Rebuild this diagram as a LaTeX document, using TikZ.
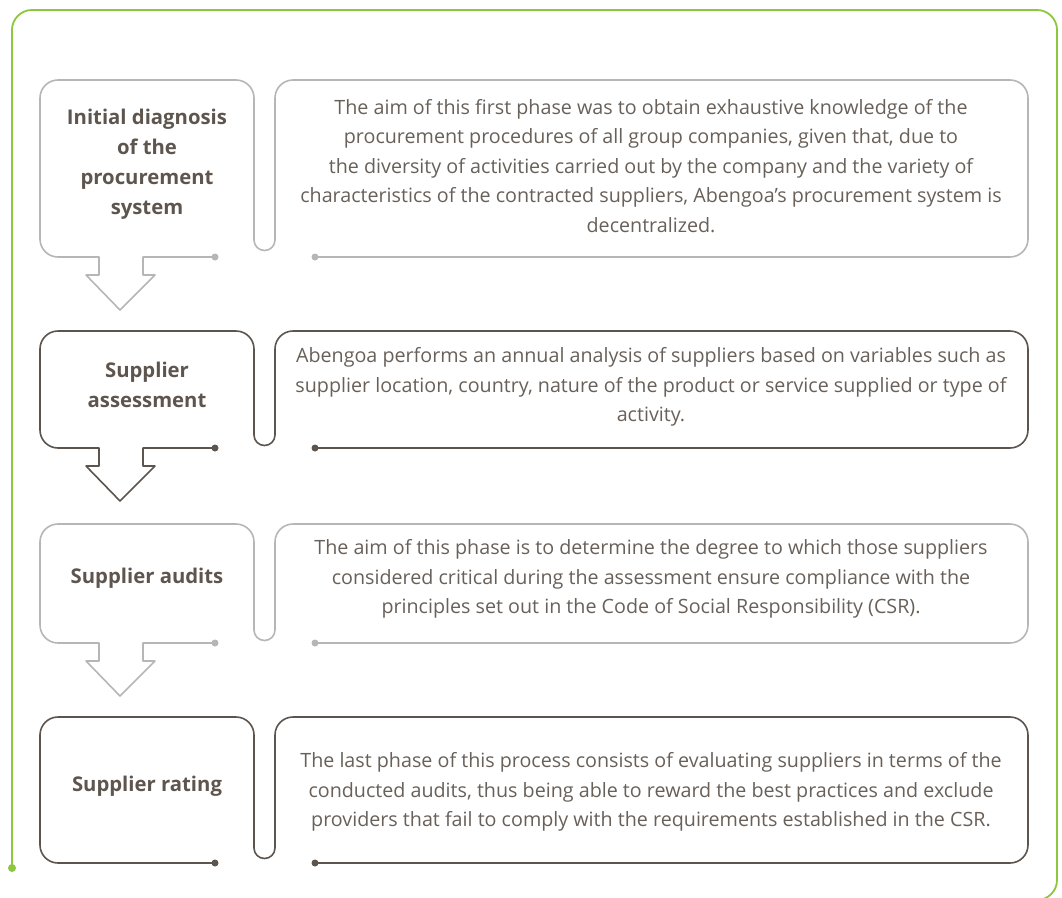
\documentclass[tikz,border=0pt]{standalone}
\usepackage{fontspec}
\setmainfont{Open Sans}

\definecolor{framegreen}{RGB}{141,198,63}
\definecolor{linegray}{RGB}{182,182,182}
\definecolor{linedark}{RGB}{92,84,77}
\definecolor{titlebrown}{RGB}{93,85,78}
\definecolor{descbrown}{RGB}{104,96,89}

\tikzset{
  phaselight/.style={draw=linegray, line width=1.6pt, line join=round},
  phasedark/.style={draw=linedark, line width=1.6pt, line join=round},
  phasetitle/.style={font=\bfseries\fontsize{20.3}{30}\selectfont, text=titlebrown, align=center, inner sep=0pt},
  phasedesc/.style={font=\fontsize{19.7}{29.5}\selectfont, text=descbrown, align=center, inner sep=0pt},
}

\begin{document}
\begin{tikzpicture}[x=1pt, y=-1pt]
  \useasboundingbox (0,0) rectangle (1062,897);

  % Green frame
  \draw[framegreen, line width=1.8pt] (12,868) -- (12,30) arc (180:270:20) -- (1037,10) arc (270:360:20) -- (1057,880) arc (0:90:20);
  \fill[framegreen] (12,868) circle (4);

  % Phase 1 (gray)
  \draw[phaselight] (215,257) -- (143,257) -- (143,275) -- (155,275) -- (120,310) -- (86,275) -- (99,275) -- (99,257)
    -- (58,257) arc (90:180:18) -- (40,98) arc (180:270:18) -- (236,80) arc (270:360:18) -- (254,240) arc (180:0:10.5)
    -- (275,98) arc (180:270:18) -- (1010,80) arc (270:360:18) -- (1028,239) arc (0:90:18) -- (315,257);
  \fill[linegray] (215,257) circle (3.5) (315,257) circle (3.5);

  % Phase 2 (dark)
  \draw[phasedark] (215,448) -- (143,448) -- (143,466) -- (155,466) -- (120,501) -- (86,466) -- (99,466) -- (99,448)
    -- (58,448) arc (90:180:18) -- (40,349) arc (180:270:18) -- (236,331) arc (270:360:18) -- (254,435) arc (180:0:10.5)
    -- (275,349) arc (180:270:18) -- (1010,331) arc (270:360:18) -- (1028,430) arc (0:90:18) -- (315,448);
  \fill[linedark] (215,448) circle (3.5) (315,448) circle (3.5);

  % Phase 3 (gray)
  \draw[phaselight] (215,643) -- (143,643) -- (143,661) -- (155,661) -- (120,696) -- (86,661) -- (99,661) -- (99,643)
    -- (58,643) arc (90:180:18) -- (40,542) arc (180:270:18) -- (236,524) arc (270:360:18) -- (254,630) arc (180:0:10.5)
    -- (275,542) arc (180:270:18) -- (1010,524) arc (270:360:18) -- (1028,625) arc (0:90:18) -- (315,643);
  \fill[linegray] (215,643) circle (3.5) (315,643) circle (3.5);

  % Phase 4 (dark, no arrow)
  \draw[phasedark] (215,863) -- (58,863) arc (90:180:18) -- (40,735) arc (180:270:18) -- (236,717) arc (270:360:18)
    -- (254,848) arc (180:0:10.5) -- (275,735) arc (180:270:18) -- (1010,717) arc (270:360:18) -- (1028,845) arc (0:90:18) -- (315,863);
  \fill[linedark] (215,863) circle (3.5) (315,863) circle (3.5);

  % Titles
  \node[phasetitle] (diagnosis) at (147,164) {Initial diagnosis\\of the\\procurement\\system};
  \node[phasetitle] (assessment) at (147,385) {Supplier\\assessment};
  \node[phasetitle] (audits) at (147,578) {Supplier audits};
  \node[phasetitle] (rating) at (147,786) {Supplier rating};

  % Descriptions
  \node[phasedesc] (diagnosistext) at (651,166) {The aim of this first phase was to obtain exhaustive knowledge of the\\
    procurement procedures of all group companies, given that, due to\\
    the diversity of activities carried out by the company and the variety of\\
    characteristics of the contracted suppliers, Abengoa’s procurement system is\\
    decentralized.};
  \node[phasedesc] (assessmenttext) at (651,387) {Abengoa performs an annual analysis of suppliers based on variables such as\\
    supplier location, country, nature of the product or service supplied or type of\\
    activity.};
  \node[phasedesc] (auditstext) at (651,579) {The aim of this phase is to determine the degree to which those suppliers\\
    considered critical during the assessment ensure compliance with the\\
    principles set out in the Code of Social Responsibility (CSR).};
  \node[phasedesc] (ratingtext) at (651,792) {The last phase of this process consists of evaluating suppliers in terms of the\\
    conducted audits, thus being able to reward the best practices and exclude\\
    providers that fail to comply with the requirements established in the CSR.};
\end{tikzpicture}
\end{document}
